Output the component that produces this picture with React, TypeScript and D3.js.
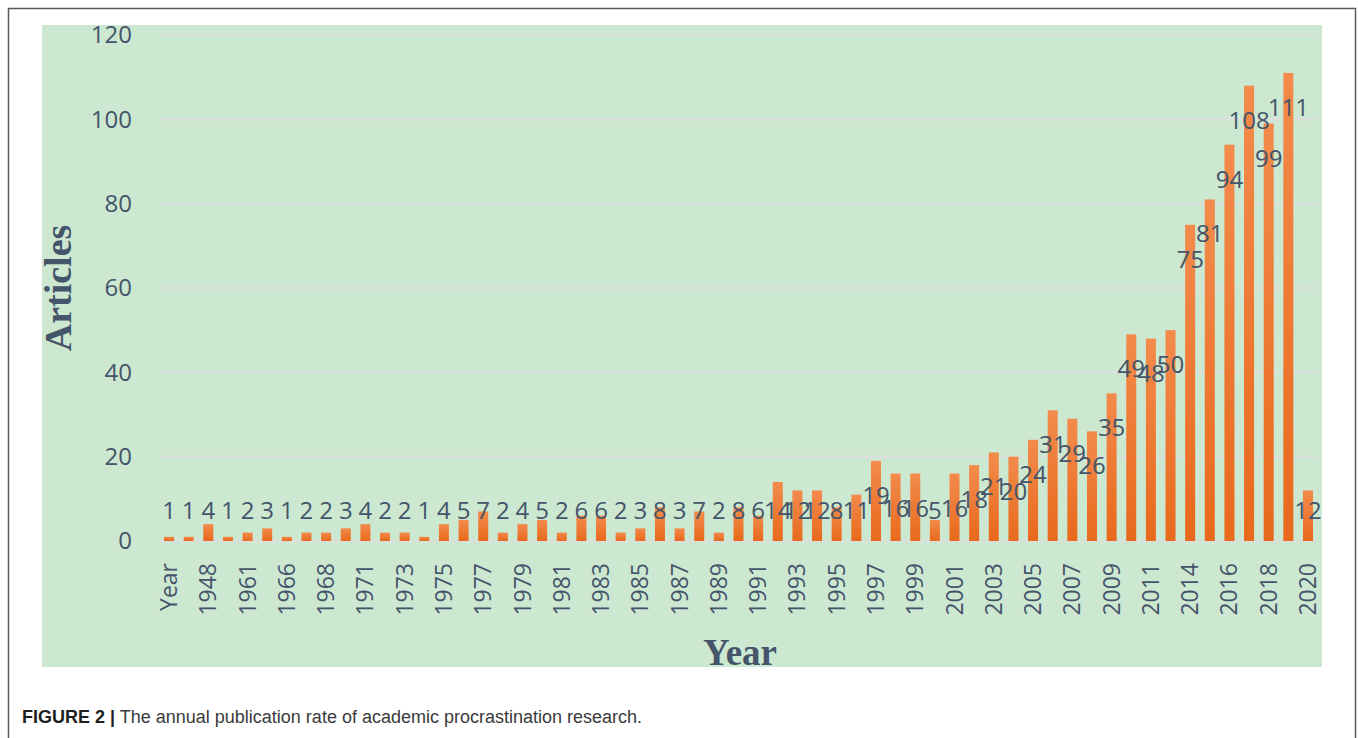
import * as d3 from "d3";

const CATEGORIES = [
  "Year", "1944", "1948", "1958", "1961", "1965", "1966", "1967", "1968", "1970",
  "1971", "1972", "1973", "1974", "1975", "1976", "1977", "1978", "1979", "1980",
  "1981", "1982", "1983", "1984", "1985", "1986", "1987", "1988", "1989", "1990",
  "1991", "1992", "1993", "1994", "1995", "1996", "1997", "1998", "1999", "2000",
  "2001", "2002", "2003", "2004", "2005", "2006", "2007", "2008", "2009", "2010",
  "2011", "2012", "2014", "2015", "2016", "2017", "2018", "2019", "2020",
];

const ARTICLES = [
  1, 1, 4, 1, 2, 3, 1, 2, 2, 3,
  4, 2, 2, 1, 4, 5, 7, 2, 4, 5,
  2, 6, 6, 2, 3, 8, 3, 7, 2, 8,
  6, 14, 12, 12, 8, 11, 19, 16, 16, 5,
  16, 18, 21, 20, 24, 31, 29, 26, 35, 49,
  48, 50, 75, 81, 94, 108, 99, 111, 12,
];

const Y_TICKS = [0, 20, 40, 60, 80, 100, 120];

const W = 1358;
const H = 738;
const TEXT = "#44546a";
const SANS = "'Open Sans', 'Noto Sans', sans-serif";
const SERIF = "'Liberation Serif', 'DejaVu Serif', serif";

export default function App() {
  const x = d3.scaleBand<string>().domain(CATEGORIES)
    .range([159.2, 1317.8]).paddingInner(0.49).paddingOuter(0.245);
  const y = d3.scaleLinear().domain([0, 120]).range([541, 35]);
  const bw = x.bandwidth();
  const y0 = y(0);
  const shown = CATEGORIES.filter((_, i) => i % 2 === 0);

  return (
    <div style={{ position: "absolute", left: 0, top: 0 }}>
      <svg width={W} height={H} style={{ display: "block", background: "#fff" }}>
        <defs>
          <linearGradient id="barGrad" x1="0" y1="0" x2="0" y2="1">
            <stop offset="0%" stopColor="#f38b4c" />
            <stop offset="100%" stopColor="#e8691c" />
          </linearGradient>
        </defs>

        {/* figure frame */}
        <path d={`M8.5,${H} V8.5 H1355.5 V${H}`} fill="none" stroke="#5a5a5a" strokeWidth={1.5} />

        {/* chart area */}
        <rect x={42} y={25} width={1280} height={642} fill="#cde8d1" />

        {/* gridlines + y labels */}
        {Y_TICKS.map(t => (
          <g key={t}>
            <line x1={160} x2={1317} y1={y(t)} y2={y(t)} stroke="#dcdfde" strokeWidth={2} />
            <text x={132} y={y(t)} dy="0.35em" textAnchor="end" fontFamily={SANS}
              fontSize={24} fill={TEXT}>{t}</text>
          </g>
        ))}

        {/* bars */}
        {CATEGORIES.map((c, i) => (
          <rect key={c} x={x(c)} y={y(ARTICLES[i])} width={bw} height={y0 - y(ARTICLES[i])}
            fill="url(#barGrad)" />
        ))}

        {/* data labels */}
        {CATEGORIES.map((c, i) => (
          <text key={"l" + c} x={(x(c) ?? 0) + bw / 2}
            y={Math.min(y(ARTICLES[i]) + 43, y0 - 22)} textAnchor="middle"
            fontFamily={SANS} fontSize={24} fill={TEXT}>{ARTICLES[i]}</text>
        ))}

        {/* x tick labels */}
        {shown.map(c => (
          <text key={"x" + c} transform={`translate(${(x(c) ?? 0) + bw / 2},563) rotate(-90)`}
            dy="0.35em" textAnchor="end" fontFamily={SANS} fontSize={23} fill={TEXT}>{c}</text>
        ))}

        {/* axis titles */}
        <text transform="translate(71,288) rotate(-90)" textAnchor="middle" fontFamily={SERIF}
          fontWeight="bold" fontSize={38} fill={TEXT}>Articles</text>
        <text x={740} y={665} textAnchor="middle" fontFamily={SERIF} fontWeight="bold"
          fontSize={37} fill={TEXT}>Year</text>

        {/* caption */}
        <text x={22} y={723} fontFamily="'Liberation Sans', Arial, sans-serif" fontSize={18} fill="#3a3a3a">
          <tspan fontWeight="bold" fill="#1e1e1e">FIGURE 2 |</tspan>
          <tspan> The annual publication rate of academic procrastination research.</tspan>
        </text>
      </svg>
    </div>
  );
}
